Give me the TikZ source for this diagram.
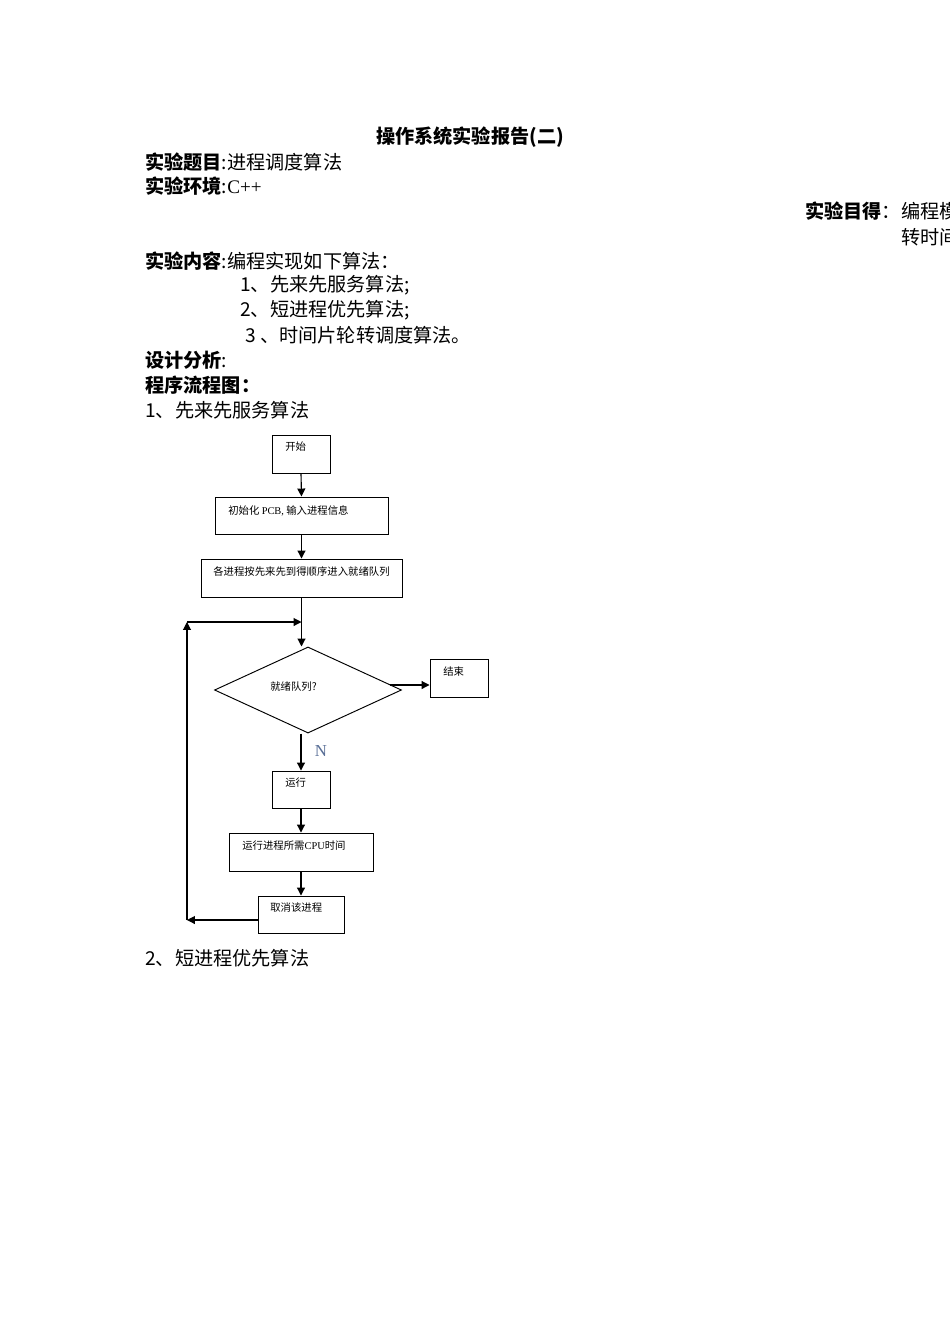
\documentclass[tikz,border=0pt]{standalone}
\usepackage{fontspec}
\setmainfont{Liberation Serif}
\newfontfamily\cjk{Noto Sans CJK SC}
\usepackage{tikz}
\usetikzlibrary{positioning, arrows.meta, fit, shapes.geometric}
\usepackage{xcolor}
\definecolor{labelN}{RGB}{88, 110, 150}
\newcommand{\lat}[1]{{\rmfamily #1}}

\tikzset{
  box/.style={draw, line width=0.6pt, inner sep=0pt},
  boxtext/.style={anchor=west, inner sep=0pt, font=\fontsize{6.5}{7}\selectfont\cjk},
  line/.style={anchor=west, inner sep=0pt, font=\fontsize{12}{14}\selectfont\cjk},
  flow/.style={-{Triangle[length=5pt, width=5pt]}, line width=0.7pt}
}

\begin{document}
\begin{tikzpicture}[x=0.6263pt, y=-0.6263pt]
  \useasboundingbox (0,0) rectangle (950,1344);
  \fill[white] (0,0) rectangle (950,1344);

  % Header text
  \node[line, anchor=center, font=\fontsize{12}{14}\selectfont\cjk\bfseries] (title) at (470,137) {操作系统实验报告(二)};
  \node[line] (topic) at (145,162) {\textbf{实验题目}:进程调度算法};
  \node[line] (env) at (145,186) {\textbf{实验环境}:\lat{C++}};
  \node[line] (aim) at (805,211) {\textbf{实验目得}：编程模};
  \node[line] (aim2) at (901,237) {转时间};
  \node[line] (content) at (145,261) {\textbf{实验内容}:编程实现如下算法：};
  \node[line] (alg1) at (240,285) {1、先来先服务算法;};
  \node[line] (alg2) at (240,310) {2、短进程优先算法;};
  \node[line] (alg3) at (245,335) {3 、时间片轮转调度算法。};
  \node[line] (design) at (145,360) {\textbf{设计分析}:};
  \node[line] (chart) at (145,385) {\textbf{程序流程图：}};
  \node[line] (fcfs) at (145,410) {1、先来先服务算法};
  \node[line] (sjf) at (145,958) {2、短进程优先算法};

  % Flow chart boxes
  \node[box, fit={(272,435) (330,473)}] (start) {};
  \node[boxtext] (startT) at (285,447) {开始};
  \node[box, fit={(215,497) (388,534)}] (init) {};
  \node[boxtext] (initT) at (228,511) {初始化 \lat{PCB,} 输入进程信息};
  \node[box, fit={(201,559) (402,597)}] (queue) {};
  \node[boxtext] (queueT) at (213,572) {各进程按先来先到得顺序进入就绪队列};
  \node[diamond, draw, line width=0.6pt, inner sep=0pt, minimum width=117.1pt, minimum height=53.9pt] (ready) at (308,690) {};
  \node[boxtext] (readyT) at (270,687) {就绪队列?};
  \node[box, fit={(430,659) (488,697)}] (finish) {};
  \node[boxtext] (finishT) at (443,672) {结束};
  \node[box, fit={(272,771) (330,808)}] (run) {};
  \node[boxtext] (runT) at (285,783) {运行};
  \node[box, fit={(229,833) (373,871)}] (cpu) {};
  \node[boxtext] (cpuT) at (242,846) {运行进程所需\lat{CPU}时间};
  \node[box, fit={(258,896) (344,933)}] (cancel) {};
  \node[boxtext] (cancelT) at (270,908) {取消该进程};
  \node[inner sep=0pt, font=\fontsize{10.5}{12}\selectfont, labelN] (nlabel) at (321,751) {N};

  % Loop corners
  \coordinate (loopB) at (187,920);
  \coordinate (loopT) at (187,622);
  \coordinate (exitY) at (390,685);

  % Connectors
  \draw[flow] (start.south) -- (init.north);
  \draw[flow] (init.south) -- (queue.north);
  \draw[flow] (queue.south) -- (queue.south |- ready.north);
  \draw[flow] (exitY) -- (exitY -| finish.west);
  \draw[flow] (ready.south -| run.north) -- (run.north);
  \draw[flow] (run.south) -- (cpu.north);
  \draw[flow] (cpu.south) -- (cancel.north);
  \draw[flow] (cancel.west |- loopB) -- (loopB);
  \draw[flow] (loopB) -- (loopT);
  \draw[flow] (loopT) -- (queue.south |- loopT);
\end{tikzpicture}
\end{document}
